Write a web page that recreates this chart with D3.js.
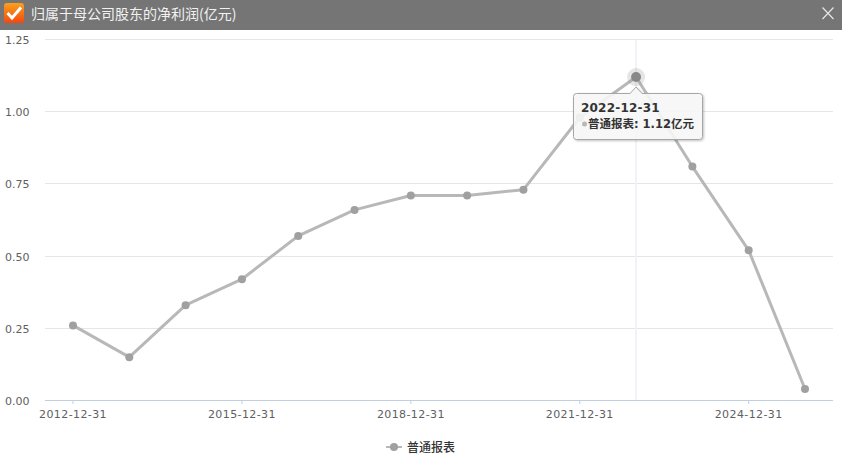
<!DOCTYPE html>
<html>
<head>
<meta charset="utf-8">
<title>归属于母公司股东的净利润(亿元)</title>
<script src="https://cdn.jsdelivr.net/npm/d3@7"></script>
<style>
html, body { margin: 0; padding: 0; background: #fff; overflow: hidden; }
text { font-family: "DejaVu Sans", "Noto Sans CJK SC", sans-serif; }
</style>
</head>
<body>
<div id="chart"></div>
<script>
var dates = ["2012-12-31","2013-12-31","2014-12-31","2015-12-31","2016-12-31","2017-12-31","2018-12-31",
             "2019-12-31","2020-12-31","2021-12-31","2022-12-31","2023-12-31","2024-12-31","2025-12-31"];
var profits = [0.26,0.15,0.33,0.42,0.57,0.66,0.71,0.71,0.73,0.98,1.12,0.81,0.52,0.04];
var yTicks = [0,0.25,0.5,0.75,1,1.25];
var xTicks = ["2012-12-31","2015-12-31","2018-12-31","2021-12-31","2024-12-31"];
var seriesName = "普通报表";
var titleText = "归属于母公司股东的净利润(亿元)";
var hoverIndex = 10;

var width = 842, height = 466;
var cjk = '"Noto Sans CJK SC", sans-serif';

var svg = d3.select("#chart").append("svg")
    .attr("width", width)
    .attr("height", height)
    .style("display", "block");

var defs = svg.append("defs");
var grad = defs.append("linearGradient").attr("id", "iconGrad")
    .attr("x1", 0).attr("y1", 0).attr("x2", 0).attr("y2", 1);
grad.append("stop").attr("offset", "0%").attr("stop-color", "#f9a11e");
grad.append("stop").attr("offset", "100%").attr("stop-color", "#f4470e");
var shadow = defs.append("filter").attr("id", "tipShadow")
    .attr("x", "-10%").attr("y", "-20%").attr("width", "120%").attr("height", "150%");
shadow.append("feDropShadow").attr("dx", 1).attr("dy", 1).attr("stdDeviation", 1.2)
    .attr("flood-color", "#000").attr("flood-opacity", 0.25);

/****** title bar ******/
svg.append("rect").attr("width", width).attr("height", 30).attr("fill", "#757575");
svg.append("rect").attr("x", 4).attr("y", 3).attr("width", 20).attr("height", 20).attr("rx", 3)
    .attr("fill", "url(#iconGrad)");
svg.append("path").attr("d", "M7.5 13 L12 18 L21 7.5")
    .attr("fill", "none").attr("stroke", "#fff").attr("stroke-width", 3);
svg.append("text").attr("x", 31).attr("y", 18.5)
    .attr("fill", "#f2f2f2")
    .style("font-size", "14px")
    .style("font-family", cjk)
    .text(titleText);
svg.append("path").attr("d", "M822.5 7.5 L833.5 19 M833.5 7.5 L822.5 19")
    .attr("stroke", "#e6e6e6").attr("stroke-width", 1.2).attr("fill", "none");

/****** scales ******/
var x = d3.scalePoint().domain(dates).range([73, 805]);
var y = d3.scaleLinear().domain([0, 1.25]).range([400.5, 39.5]);

// grid lines
svg.append("g").selectAll("line")
    .data(yTicks.filter(function (d) { return d > 0; }))
    .enter().append("line")
    .attr("x1", 45).attr("x2", 833)
    .attr("y1", function (d) { return Math.floor(y(d)) + 0.5; })
    .attr("y2", function (d) { return Math.floor(y(d)) + 0.5; })
    .attr("stroke", "#e6e6e6");

// y labels
svg.append("g").selectAll("text")
    .data(yTicks)
    .enter().append("text")
    .attr("x", 29.5).attr("y", function (d) { return y(d) + 4.5; })
    .attr("text-anchor", "end")
    .attr("fill", "#606060")
    .style("font-size", "11px")
    .text(function (d) { return d3.format(".2f")(d); });

// x axis
var axis = d3.axisBottom(x).tickValues(xTicks).tickSize(4).tickPadding(6);
var gx = svg.append("g").attr("transform", "translate(-0.5,400)").call(axis);
gx.select(".domain").remove();
gx.selectAll(".tick line").attr("stroke", "#c0d0e0");
gx.selectAll(".tick text")
    .attr("fill", "#606060")
    .style("font-family", '"DejaVu Sans", sans-serif')
    .style("letter-spacing", "0.4px")
    .style("font-size", "11px");
svg.append("line").attr("x1", 45).attr("x2", 833).attr("y1", 400.5).attr("y2", 400.5)
    .attr("stroke", "#c0d0e0");

// hover crosshair
svg.append("line")
    .attr("x1", x(dates[hoverIndex])).attr("x2", x(dates[hoverIndex]))
    .attr("y1", 40).attr("y2", 400)
    .attr("stroke", "#eff2f7").attr("stroke-width", 2);

/****** series ******/
var line = d3.line()
    .x(function (d, i) { return x(dates[i]); })
    .y(function (d) { return y(d); });
svg.append("path").datum(profits)
    .attr("d", line)
    .attr("fill", "none")
    .attr("stroke", "#b8b8b8")
    .attr("stroke-width", 3)
    .attr("stroke-linejoin", "round");

svg.append("g").selectAll("circle")
    .data(profits)
    .enter().append("circle")
    .attr("cx", function (d, i) { return x(dates[i]); })
    .attr("cy", function (d) { return y(d); })
    .attr("r", 4)
    .attr("fill", "#a0a0a0");

// hovered point halo
svg.append("circle")
    .attr("cx", x(dates[hoverIndex])).attr("cy", y(profits[hoverIndex]))
    .attr("r", 9).attr("fill", "#999").attr("fill-opacity", 0.25);
svg.append("circle")
    .attr("cx", x(dates[hoverIndex])).attr("cy", y(profits[hoverIndex]))
    .attr("r", 5).attr("fill", "#888");

/****** legend ******/
var legend = svg.append("g").attr("transform", "translate(386,447)");
legend.append("line").attr("x1", 0).attr("x2", 16).attr("stroke", "#b8b8b8").attr("stroke-width", 2);
legend.append("circle").attr("cx", 8).attr("r", 4).attr("fill", "#a0a0a0");
legend.append("text").attr("x", 21).attr("y", 4.5)
    .attr("fill", "#333")
    .style("font-size", "12px")
    .style("font-family", cjk)
    .style("font-weight", 500)
    .text(seriesName);

/****** tooltip ******/
var px = x(dates[hoverIndex]), py = y(profits[hoverIndex]);
var tip = svg.append("g");
var tl = 573.5, tr = 702.5, tt = 93.5, tb = 139.5, tip_r = 3;
tip.append("path")
    .attr("d", "M" + (tl + tip_r) + " " + tt
        + " L" + (px - 6) + " " + tt + " L" + px + " " + (py + 10) + " L" + (px + 6) + " " + tt
        + " L" + (tr - tip_r) + " " + tt + " Q" + tr + " " + tt + " " + tr + " " + (tt + tip_r)
        + " L" + tr + " " + (tb - tip_r) + " Q" + tr + " " + tb + " " + (tr - tip_r) + " " + tb
        + " L" + (tl + tip_r) + " " + tb + " Q" + tl + " " + tb + " " + tl + " " + (tb - tip_r)
        + " L" + tl + " " + (tt + tip_r) + " Q" + tl + " " + tt + " " + (tl + tip_r) + " " + tt + " Z")
    .attr("fill", "#f9f9f9")
    .attr("fill-opacity", 0.88)
    .attr("stroke", "#a6a6a6")
    .attr("filter", "url(#tipShadow)");
tip.append("text").attr("x", 581).attr("y", 112)
    .attr("fill", "#333")
    .style("font-size", "12px")
    .style("letter-spacing", "0.2px")
    .style("font-weight", "bold")
    .text(dates[hoverIndex]);
tip.append("circle").attr("cx", 584.5).attr("cy", 124).attr("r", 2.5).attr("fill", "#b8b8b8");
tip.append("text").attr("x", 588).attr("y", 128)
    .attr("fill", "#333")
    .style("font-size", "11.5px")
    .style("font-weight", "bold")
    .text(seriesName + ": " + profits[hoverIndex] + "亿元");
</script>
</body>
</html>
